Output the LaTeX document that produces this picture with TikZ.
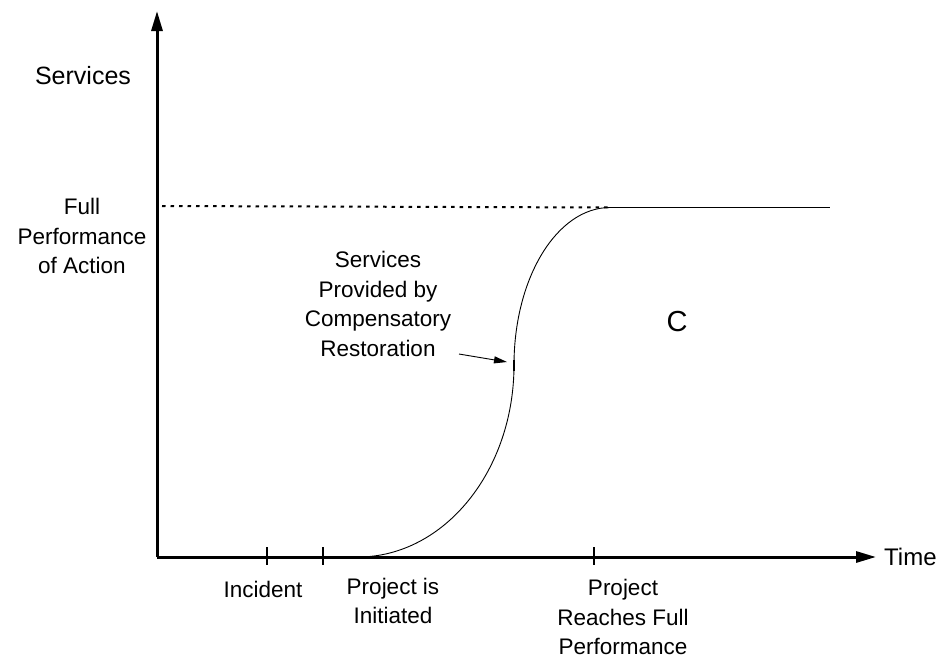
\documentclass[tikz,border=0pt]{standalone}
\usepackage{fontspec}
\setmainfont{Liberation Sans}
\usetikzlibrary{arrows.meta}
\begin{document}
\begin{tikzpicture}[x=1pt,y=-1pt,
  lbl/.style={align=center,font=\fontsize{22.5}{29.5}\selectfont,inner sep=0pt},
  axis/.style={line width=3pt,-{Triangle[length=20pt,width=11pt]}},
  tick/.style={line width=1.3pt},
  curve/.style={line width=0.9pt}]
\useasboundingbox (0,0) rectangle (948,664);
\coordinate (O) at (157,557);
\coordinate (ytop) at (157,11);
\coordinate (xend) at (876,557);
\draw[axis] (O) -- (ytop);
\draw[axis] (O) -- (xend);
% ticks
\coordinate (t1a) at (267,547); \coordinate (t1b) at (267,565);
\coordinate (t2a) at (323,547); \coordinate (t2b) at (323,565);
\coordinate (t3a) at (594,547); \coordinate (t3b) at (594,565);
\draw[tick] (t1a) -- (t1b);
\draw[tick] (t2a) -- (t2b);
\draw[tick] (t3a) -- (t3b);
% dotted full performance line
\coordinate (d0) at (162,206);
\coordinate (d1) at (610,207.5);
\coordinate (d2) at (830,207.5);
\draw[line width=2pt,dash pattern=on 3.5pt off 5pt] (d0) -- (d1);
\draw[curve] (d1) -- (d2);
% S-curve
\coordinate (c0) at (358,557);
\coordinate (cm) at (514,365);
\draw[curve] (c0) .. controls (444,557) and (514,471) .. (cm)
  .. controls (514,278) and (557,207.5) .. (d1);
\draw[line width=1.2pt] (514,360) -- (514,371);
% labels
\node[lbl,font=\fontsize{25}{29}\selectfont] (services) at (83,76) {Services};
\node[lbl] (full) at (82,236) {Full\\Performance\\of Action};
\node[lbl] (prov) at (378,304) {Services\\Provided by\\Compensatory\\Restoration};
\node[lbl,font=\fontsize{29}{30}\selectfont] (C) at (677,322) {C};
\node[lbl,font=\fontsize{24}{29}\selectfont,anchor=west] (time) at (884,557) {Time};
\node[lbl] (incident) at (263,589) {Incident};
\node[lbl] (init) at (393,601) {Project is\\Initiated};
\node[lbl] (reach) at (623,617) {Project\\Reaches Full\\Performance};
\coordinate (arrS) at (459,354);
\draw[line width=0.9pt,-{Triangle[length=13pt,width=7pt]}] (arrS) -- (507,362);
\end{tikzpicture}
\end{document}
